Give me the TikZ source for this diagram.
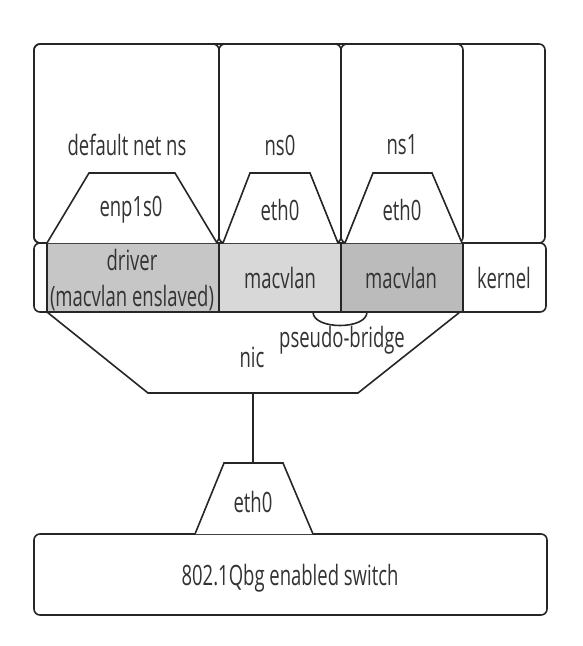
\documentclass[tikz,border=0pt]{standalone}
\usepackage{fontspec}
\setmainfont{Open Sans}[FakeStretch=0.66]
\usetikzlibrary{positioning}
\definecolor{drvgray}{HTML}{C6C6C6}
\definecolor{nsagray}{HTML}{D8D8D8}
\definecolor{nsbgray}{HTML}{BBBBBB}
\definecolor{txtgray}{HTML}{333333}
\tikzset{
  box/.style={draw=black!85, line width=1.6pt, rounded corners=6pt},
  cell/.style={draw=black!85, line width=1.6pt},
  port/.style={draw=black!85, line width=1.6pt, fill=white},
  lbl/.style={font=\fontsize{28}{36}\selectfont, text=txtgray, inner sep=0pt, align=center}
}

\begin{document}
\begin{tikzpicture}[x=1pt, y=-1pt]
  \useasboundingbox (0,0) rectangle (583,646);
  % host and namespaces
  \draw[box] (34,44) rectangle (545,243);
  \draw[box] (34,44) rectangle (219,243);
  \draw[box] (219,44) rectangle (341,243);
  \draw[box] (341,44) rectangle (463,243);
  \node[lbl] (defns) at (127,145) {default net ns};
  \node[lbl] (ns0) at (280,145) {ns0};
  \node[lbl] (ns1) at (402,145) {ns1};
  % kernel row
  \draw[box, fill=white] (34,243) rectangle (546,312);
  \draw[cell, fill=drvgray] (47,243) rectangle (219,312);
  \draw[cell, fill=nsagray] (219,243) rectangle (341,312);
  \draw[cell, fill=nsbgray] (341,243) rectangle (463,312);
  \node[lbl] (driver) at (132,280) {driver\\(macvlan enslaved)};
  \node[lbl] (mv0) at (280,278) {macvlan};
  \node[lbl] (mv1) at (401,278) {macvlan};
  \node[lbl] (kernel) at (504,278) {kernel};
  % interfaces in the namespaces
  \draw[port] (47,243) -- (89,173) -- (175,173) -- (217,243);
  \draw[port] (223,243) -- (250,173) -- (310,173) -- (338,243);
  \draw[port] (345,243) -- (373,173) -- (432,173) -- (462,243);
  \node[lbl] (enp) at (131,210) {enp1s0};
  \node[lbl] (eth-a) at (280,210) {eth0};
  \node[lbl] (eth-b) at (402,210) {eth0};
  % nic with pseudo-bridge
  \draw[cell] (47,312) -- (148,393) -- (358,393) -- (460,312);
  \draw[cell] (313,312) .. controls (313,330) and (367,330) .. (367,312);
  \node[lbl] (nic) at (252,357) {nic};
  \node[lbl] (bridge) at (342,340) {pseudo-bridge};
  \coordinate (nic-b) at (253,393);
  % switch
  \draw[box] (34,534) rectangle (547,615);
  \node[lbl] (switch) at (290,578) {802.1Qbg enabled switch};
  \draw[port] (195,534) -- (224,463) -- (283,463) -- (313,534);
  \node[lbl] (eth-sw) at (253,502) {eth0};
  \coordinate (eth-sw-t) at (253,463);
  \draw[cell] (nic-b) -- (eth-sw-t);
\end{tikzpicture}
\end{document}
